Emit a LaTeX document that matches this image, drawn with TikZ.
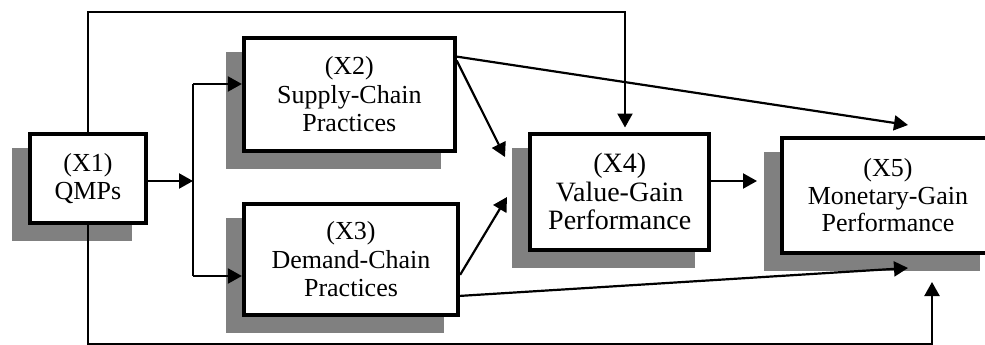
\documentclass[tikz,border=0pt]{standalone}
\usepackage{fontspec}
\setmainfont{Liberation Serif}
\usetikzlibrary{arrows.meta,backgrounds}
\definecolor{shadowgray}{RGB}{128,128,128}
\begin{document}
\begin{tikzpicture}[x=1pt,y=-1pt,
  box/.style={draw=black, line width=4.2pt, fill=white, align=center, inner sep=0pt},
  txtA/.style={font=\fontsize{26}{28.5}\selectfont},
  txtB/.style={font=\fontsize{28}{28.5}\selectfont},
  txtC/.style={font=\fontsize{26}{27.5}\selectfont},
  arr/.style={line width=2.2pt, -{Triangle[length=14pt,width=15pt]}},
  plain/.style={line width=2.2pt},
  shadowbox/.style={fill=shadowgray}
]
\useasboundingbox (0,0) rectangle (985,345);
\clip (0,0) rectangle (985,345);

\node[box, txtA, minimum width=116.3pt, minimum height=89.3pt] (x1) at (87.9,178.4) {(X1)\\QMPs};
\node[box, txtA, minimum width=210.7pt, minimum height=113.6pt] (x2) at (349.3,94.5) {(X2)\\Supply-Chain\\Practices};
\node[box, txtA, minimum width=214pt, minimum height=111.6pt] (x3) at (351,259.5) {(X3)\\Demand-Chain\\Practices};
\node[box, txtB, minimum width=178.7pt, minimum height=116pt] (x4) at (619.7,191.7) {(X4)\\Value-Gain\\Performance};
\node[box, txtC, minimum width=212pt, minimum height=115pt] (x5) at (888,195.5) {(X5)\\Monetary-Gain\\Performance};

\begin{scope}[on background layer]
  \foreach \n in {x1,x2,x3,x4,x5}
    \fill[shadowbox] ([shift={(-16,16)}]\n.south west) rectangle ([shift={(-16,16)}]\n.north east);
\end{scope}

\coordinate (jx) at (193,0);
\coordinate (jt) at (193,84);
\coordinate (jb) at (193,276);
\coordinate (tr) at (625,12.3);
\coordinate (t4top) at (625,127.5);
\coordinate (br) at (932,344.5);
\coordinate (t5b) at (932,282);
\coordinate (t4a) at (505,157);
\coordinate (t4b) at (507,197);
\coordinate (t5a) at (908,125);
\coordinate (t5c) at (908,268);
\coordinate (t5d) at (757,181);

\draw[arr] ([yshift=-2.6pt]x1.east) -- ([yshift=-2.6pt]x1.east -| jx);
\draw[plain] (jt) -- (jb);
\draw[arr] (jt) -- (jt -| x2.west);
\draw[arr] (jb) -- (jb -| x3.west);
\draw[arr] (x1.north) |- (tr) -- (t4top);
\draw[arr] (x1.south) |- (br) -- (t5b);
\draw[arr] ([yshift=-21pt]x2.north east) -- (t5a);
\draw[arr] ([yshift=-25pt]x2.north east) -- (t4a);
\draw[arr] ([yshift=-73.3pt]x3.north east) -- (t4b);
\draw[arr] ([yshift=-94.3pt]x3.north east) -- (t5c);
\draw[arr] ([yshift=10.7pt]x4.east) -- (t5d);
\end{tikzpicture}
\end{document}
